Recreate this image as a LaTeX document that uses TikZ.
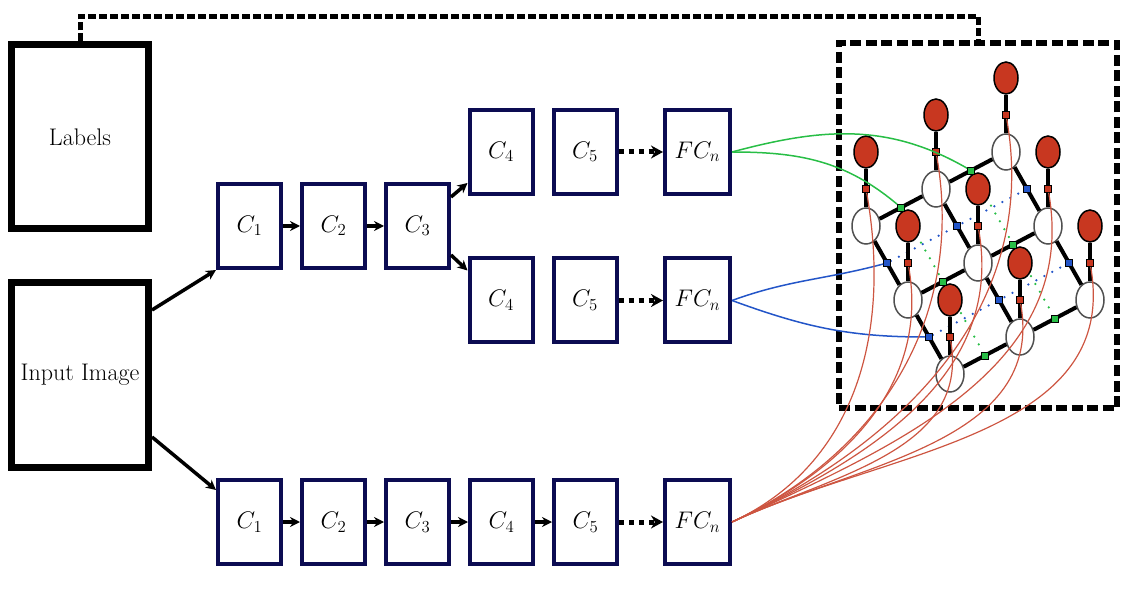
\RequirePackage{fix-cm}
\documentclass[tikz,border=0pt]{standalone}
\usepackage{tikz}
\usetikzlibrary{arrows.meta,shapes,positioning,calc,backgrounds}

\definecolor{navybox}{RGB}{12,12,82}
\definecolor{nodered}{RGB}{200,55,32}
\definecolor{curvered}{RGB}{205,85,65}
\definecolor{facgreen}{RGB}{40,190,70}
\definecolor{facblue}{RGB}{35,85,200}
\definecolor{rimgray}{RGB}{80,80,80}

\tikzset{
  bigbox/.style={rectangle, draw, line width=7pt, minimum width=137pt, minimum height=184pt},
  conv/.style={rectangle, draw=navybox, line width=4pt, minimum width=63pt, minimum height=84pt},
  fcbox/.style={conv, minimum width=65pt},
  arr/.style={line width=3.5pt, -{Stealth[length=10pt,width=10pt]}},
  dotarr/.style={line width=5pt, dash pattern=on 5pt off 5pt, -{Stealth[length=12pt,width=13pt]}},
  hid/.style={ellipse, draw=rimgray, line width=1.5pt, fill=white, minimum width=28pt, minimum height=36pt, inner sep=0pt},
  obs/.style={ellipse, draw, line width=1.5pt, fill=nodered, minimum width=24pt, minimum height=32pt, inner sep=0pt},
  fac/.style={rectangle, draw, line width=0.8pt, minimum size=7pt, inner sep=0pt},
  edge/.style={line width=4pt},
  dots/.style={line width=2.5pt, line cap=round, dash pattern=on 0pt off 9pt},
}

\begin{document}
\begin{tikzpicture}[x=1pt,y=1pt, every node/.style={font=\fontsize{24}{28}\selectfont}]
\useasboundingbox (0,0) rectangle (1132,595);

% labels and input
\node[bigbox] (lab) at (80,458) {Labels};
\node[bigbox] (inp) at (80,220) {Input Image};

% shared part
\node[conv] (c1a) at (249.5,369) {$C_1$};
\node[conv] (c2a) at (333.5,369) {$C_2$};
\node[conv] (c3a) at (417.5,369) {$C_3$};

% upper branch
\node[conv] (c4a) at (501,443) {$C_4$};
\node[conv] (c5a) at (585,443) {$C_5$};
\node[fcbox] (fca) at (697.5,443) {$FC_n$};

% lower branch
\node[conv] (c4b) at (501,294.5) {$C_4$};
\node[conv] (c5b) at (585,294.5) {$C_5$};
\node[fcbox] (fcb) at (697.5,294.5) {$FC_n$};

% bottom network
\node[conv] (c1b) at (249.5,73) {$C_1$};
\node[conv] (c2b) at (333.5,73) {$C_2$};
\node[conv] (c3b) at (417.5,73) {$C_3$};
\node[conv] (c4c) at (501.5,73) {$C_4$};
\node[conv] (c5c) at (585.5,73) {$C_5$};
\node[fcbox] (fcc) at (697.5,73) {$FC_n$};

\draw[arr] ([yshift=65pt]inp.east) -- (c1a.south west);
\draw[arr] ([yshift=-62pt]inp.east) -- ([yshift=-12pt]c1b.north west);
\draw[arr] (c1a) -- (c2a);
\draw[arr] (c2a) -- (c3a);
\draw[arr] ([yshift=29pt]c3a.east) -- ([yshift=-31pt]c4a.west);
\draw[arr] ([yshift=-29pt]c3a.east) -- ([yshift=30pt]c4b.west);
\draw[dotarr] (c5a) -- (fca);
\draw[dotarr] (c5b) -- (fcb);
\draw[arr] (c1b) -- (c2b);
\draw[arr] (c2b) -- (c3b);
\draw[arr] (c3b) -- (c4c);
\draw[arr] (c4c) -- (c5c);
\draw[dotarr] (c5c) -- (fcc);

% CRF box
\node[draw, line width=6pt, dash pattern=on 11pt off 4.5pt, minimum width=278pt, minimum height=365pt] (crf) at (978,369.5) {};
\draw[line width=5pt, dash pattern=on 8pt off 3pt] (lab.north) -- ++(0,25) -| (crf.north);

% grid of hidden and observed nodes
\foreach \i in {0,1,2}{
  \foreach \j in {0,1,2}{
    \node[hid] (w\i\j) at ({866+70*\i+42*\j},{369+37*\i-74*\j}) {};
    \node[obs] (r\i\j) at ($(w\i\j)+(0,74)$) {};
    \draw[edge] (r\i\j) -- (w\i\j);
  }
}
\foreach \i/\k in {0/1,1/2}{
  \foreach \j in {0,1,2}{
    \draw[edge] (w\i\j) -- (w\k\j);
    \draw[edge] (w\j\i) -- (w\j\k);
  }
}

% factors
\foreach \i in {0,1,2}{
  \foreach \j in {0,1,2}{
    \node[fac, fill=nodered] (u\i\j) at ($(r\i\j)!0.5!(w\i\j)$) {};
  }
}
\foreach \i/\k in {0/1,1/2}{
  \foreach \j in {0,1,2}{
    \node[fac, fill=facgreen] (g\i\j) at ($(w\i\j)!0.5!(w\k\j)$) {};
    \node[fac, fill=facblue] (b\j\i) at ($(w\j\i)!0.5!(w\j\k)$) {};
  }
}
\begin{scope}[on background layer]
  \draw[dots, facblue] (b00) -- (b20);
  \draw[dots, facblue] (b01) -- (b21);
  \draw[dots, facgreen] (g00) -- (g02);
  \draw[dots, facgreen] (g10) -- (g12);
\end{scope}

% links from the networks
\draw[facgreen, line width=1.5pt] (fca.east) to[out=15,in=150] (g10);
\draw[facgreen, line width=1.5pt] (fca.east) to[out=0,in=140] (g00);
\draw[facblue, line width=1.5pt] (fcb.east) to[out=20,in=195] (b00);
\draw[facblue, line width=1.5pt] (fcb.east) to[out=-20,in=180] (b01);
\foreach \i in {0,1,2}{
  \foreach \j in {0,1,2}{
    \draw[curvered, line width=1.2pt] (fcc.east) to[out=25,in=-80] (u\i\j);
  }
}
\end{tikzpicture}
\end{document}
